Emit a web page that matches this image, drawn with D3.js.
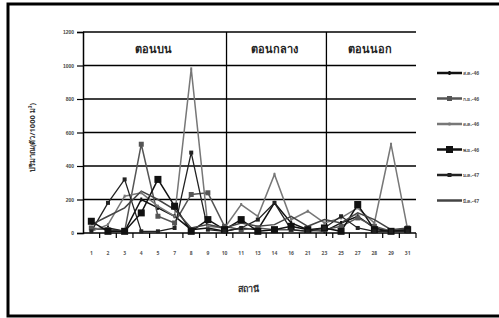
<!DOCTYPE html>
<html>
<head>
<meta charset="utf-8">
<script src="https://cdn.jsdelivr.net/npm/d3@7"></script>
<style>
  body { margin: 0; background: #fff; }
  svg { display: block; font-family: "Noto Sans", "DejaVu Sans", sans-serif; }
</style>
</head>
<body>
<div id="chart"></div>
<script>
// stations along the river
const stations = ["1", "2", "3", "4", "5", "7", "8", "9", "10", "11", "13", "14", "16", "21", "23", "25", "27", "28", "29", "31"];
const yTicks = [0, 200, 400, 600, 800, 1000, 1200];

// one array per sampling month (ตัว/1000 ม³)
const aug46 = [20, 30, 10, 200, 150, 100, 20, 30, 10, 30, 20, 180, 60, 20, 10, 60, 100, 30, 10, 20];
const sep46 = [30, 20, 10, 530, 100, 60, 230, 240, 40, 20, 30, 20, 20, 10, 20, 40, 90, 40, 10, 30];
const oct46 = [10, 50, 220, 240, 160, 100, 980, 40, 30, 170, 100, 350, 80, 130, 60, 90, 150, 60, 530, 20];
const nov46 = [70, 10, 10, 120, 320, 160, 10, 80, 20, 80, 10, 20, 40, 20, 30, 10, 170, 20, 10, 20];
const jan47 = [10, 180, 320, 10, 10, 30, 480, 20, 10, 30, 80, 180, 20, 10, 30, 100, 30, 10, 10, 10];
const mar47 = [50, 100, 150, 250, 200, 140, 30, 50, 30, 60, 40, 50, 100, 40, 80, 60, 120, 80, 20, 30];

const seriesNames = ["ส.ค.-46", "ก.ย.-46", "ต.ค.-46", "พ.ย.-46", "ม.ค.-47", "มี.ค.-47"];
const zoneNames = ["ตอนบน", "ตอนกลาง", "ตอนนอก"];
const zoneBreaks = ["10", "23"];

const series = [
    {name: seriesNames[0], values: aug46, color: "#111", width: 1.5, marker: "dash", size: 4},
    {name: seriesNames[1], values: sep46, color: "#555", width: 1.5, marker: "square", size: 5},
    {name: seriesNames[2], values: oct46, color: "#777", width: 1.5, marker: "dash", size: 3},
    {name: seriesNames[3], values: nov46, color: "#111", width: 1.5, marker: "square", size: 7},
    {name: seriesNames[4], values: jan47, color: "#222", width: 1.3, marker: "square", size: 4},
    {name: seriesNames[5], values: mar47, color: "#444", width: 1.5, marker: "none", size: 0}
];

const W = 499, H = 318;
const plot = {left: 83, right: 416, top: 32, bottom: 233};

const svg = d3.select("#chart").append("svg")
    .attr("width", W)
    .attr("height", H);

// outer frame
svg.append("rect")
    .attr("x", 8).attr("y", 4)
    .attr("width", W).attr("height", 312)
    .attr("fill", "none")
    .attr("stroke", "#000")
    .attr("stroke-width", 3);

const x = d3.scalePoint()
    .domain(stations)
    .range([plot.left, plot.right])
    .padding(0.5);

const step = x.step();

const y = d3.scaleLinear()
    .domain([0, 1200])
    .range([plot.bottom, plot.top]);

// horizontal gridlines
svg.append("g")
    .selectAll("line")
    .data(yTicks.filter(d => d > 0))
    .enter().append("line")
    .attr("x1", plot.left).attr("x2", plot.right)
    .attr("y1", d => y(d)).attr("y2", d => y(d))
    .attr("stroke", "#000")
    .attr("stroke-width", 1.3);

// zone dividers
svg.append("g")
    .selectAll("line")
    .data(zoneBreaks)
    .enter().append("line")
    .attr("x1", d => x(d) + 2).attr("x2", d => x(d) + 2)
    .attr("y1", y(1200)).attr("y2", y(0) + 3)
    .attr("stroke", "#000")
    .attr("stroke-width", 1.3);

// zone titles
const zoneCenters = [
    (plot.left + x(zoneBreaks[0])) / 2,
    (x(zoneBreaks[0]) + x(zoneBreaks[1])) / 2,
    (x(zoneBreaks[1]) + plot.right) / 2
];
svg.append("g")
    .selectAll("text")
    .data(zoneNames)
    .enter().append("text")
    .attr("x", (d, i) => zoneCenters[i])
    .attr("y", y(1100) + 4)
    .attr("text-anchor", "middle")
    .attr("font-size", 11)
    .attr("font-weight", "bold")
    .attr("fill", "#222")
    .text(d => d);

// y axis
const yAxis = d3.axisLeft(y)
    .tickValues(yTicks)
    .tickFormat(d3.format("d"))
    .tickSize(6)
    .tickPadding(3);
const yg = svg.append("g")
    .attr("transform", `translate(${plot.left},0)`)
    .call(yAxis);
yg.select(".domain").attr("stroke-width", 1.5);
yg.selectAll(".tick line").attr("stroke-width", 1.2);
yg.selectAll("text").attr("font-size", 5).attr("font-weight", "bold").attr("fill", "#444");

// x axis with ticks between categories
const xg = svg.append("g")
    .attr("transform", `translate(0,${plot.bottom})`);
xg.append("line")
    .attr("x1", plot.left).attr("x2", plot.right)
    .attr("y1", 0).attr("y2", 0)
    .attr("stroke", "#000")
    .attr("stroke-width", 1.5);
xg.selectAll(".tick")
    .data(stations)
    .enter().append("line")
    .attr("x1", d => x(d) + step / 2).attr("x2", d => x(d) + step / 2)
    .attr("y1", 0).attr("y2", 5)
    .attr("stroke", "#000")
    .attr("stroke-width", 1.2);
xg.selectAll("text")
    .data(stations)
    .enter().append("text")
    .attr("x", d => x(d))
    .attr("y", 22)
    .attr("text-anchor", "middle")
    .attr("font-size", 5)
    .attr("font-weight", "bold")
    .attr("fill", "#555")
    .text(d => d);

// lines
const line = d3.line()
    .x((d, i) => x(stations[i]))
    .y(d => y(d));

const lines = svg.append("g");
series.forEach(function (s) {
    lines.append("path")
        .datum(s.values)
        .attr("d", line)
        .attr("fill", "none")
        .attr("stroke", s.color)
        .attr("stroke-width", s.width);
});

function drawMarker(g, s, cx, cy) {
    if (s.marker === "square") {
        g.append("rect")
            .attr("x", cx - s.size / 2).attr("y", cy - s.size / 2)
            .attr("width", s.size).attr("height", s.size)
            .attr("fill", s.color);
    } else if (s.marker === "dash") {
        g.append("rect")
            .attr("x", cx - 1).attr("y", cy - s.size / 2)
            .attr("width", 2).attr("height", s.size)
            .attr("fill", s.color);
    }
}

const markers = svg.append("g");
series.forEach(function (s) {
    s.values.forEach(function (v, i) {
        drawMarker(markers, s, x(stations[i]), y(v));
    });
});

// legend
const legend = svg.append("g");
series.forEach(function (s, i) {
    const ly = 73 + i * 25.5;
    legend.append("line")
        .attr("x1", 437).attr("x2", 462)
        .attr("y1", ly).attr("y2", ly)
        .attr("stroke", s.color)
        .attr("stroke-width", 2.5);
    drawMarker(legend, s, 449.5, ly);
    legend.append("text")
        .attr("x", 463)
        .attr("y", ly + 2)
        .attr("font-size", 5)
        .attr("font-weight", "bold")
        .attr("fill", "#555")
        .text(s.name);
});

// axis titles
svg.append("text")
    .attr("transform", `translate(35,${(plot.top + plot.bottom) / 2 + 5}) rotate(-90)`)
    .attr("text-anchor", "middle")
    .attr("font-size", 7.5)
    .attr("font-weight", "bold")
    .attr("fill", "#333")
    .text("ปริมาณ(ตัว/1000 ม³)");

svg.append("text")
    .attr("x", 248)
    .attr("y", 292)
    .attr("text-anchor", "middle")
    .attr("font-size", 9)
    .attr("font-weight", "bold")
    .attr("fill", "#333")
    .text("สถานี");
</script>
</body>
</html>
